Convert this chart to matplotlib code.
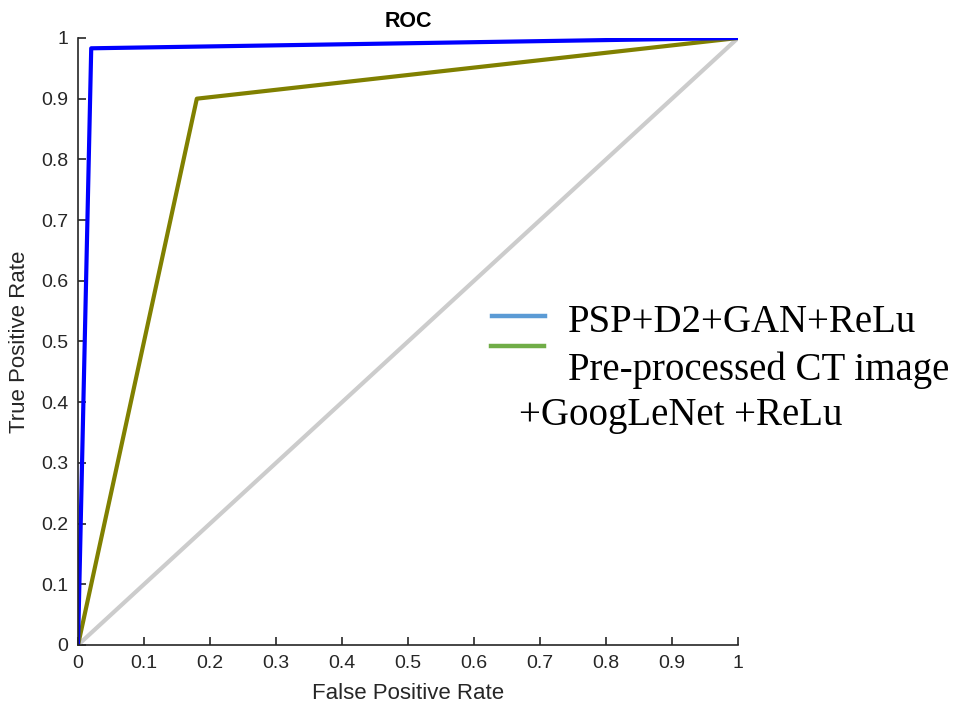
import matplotlib.pyplot as plt
from matplotlib.lines import Line2D

# ROC curves
fpr_psp = [0, 0.02, 1]
tpr_psp = [0, 0.983, 1]
fpr_goog = [0, 0.18, 1]
tpr_goog = [0, 0.90, 1]
chance = [0, 1]

ticks = [0, 0.1, 0.2, 0.3, 0.4, 0.5, 0.6, 0.7, 0.8, 0.9, 1]
tick_labels = ['0', '0.1', '0.2', '0.3', '0.4', '0.5', '0.6', '0.7', '0.8', '0.9', '1']

legend_labels = ['PSP+D2+GAN+ReLu', 'Pre-processed CT image', '+GoogLeNet +ReLu']

plt.rcParams['font.family'] = ['Liberation Sans', 'DejaVu Sans']

fig = plt.figure(figsize=(9.55, 7.02), dpi=100)
ax = fig.add_axes([0.0817, 0.0812, 0.6911, 0.8647])

ax.plot(chance, chance, color='#cccccc', linewidth=3, solid_capstyle='butt')
ax.plot(fpr_goog, tpr_goog, color='#808000', linewidth=3)
ax.plot(fpr_psp, tpr_psp, color='#0000ff', linewidth=3)

ax.set_xlim(0, 1)
ax.set_ylim(0, 1)
ax.set_xticks(ticks)
ax.set_xticklabels(tick_labels)
ax.set_yticks(ticks)
ax.set_yticklabels(tick_labels)
ax.tick_params(direction='in', length=6, width=1.2, colors='#262626', labelsize=14, pad=7)
for s in ['top', 'right']:
    ax.spines[s].set_visible(False)
for s in ['left', 'bottom']:
    ax.spines[s].set_color('#262626')
    ax.spines[s].set_linewidth(1.2)

ax.set_xlabel('False Positive Rate', fontsize=16, color='#262626', labelpad=8)
ax.set_ylabel('True Positive Rate', fontsize=16, color='#262626', labelpad=8)
ax.set_title('ROC', fontsize=15.5, fontweight='bold', pad=8)

# legend pasted over the figure
fig.add_artist(Line2D([492 / 955, 545 / 955], [1 - 316 / 702, 1 - 316 / 702],
                      color='#5b9bd5', linewidth=3.2, transform=fig.transFigure))
fig.add_artist(Line2D([491 / 955, 544 / 955], [1 - 346 / 702, 1 - 346 / 702],
                      color='#70ad47', linewidth=3.2, transform=fig.transFigure))
serif = ['Liberation Serif', 'DejaVu Serif']
fig.text(568 / 955, 1 - 322 / 702, legend_labels[0], fontsize=28, family=serif, va='center')
fig.text(568 / 955, 1 - 370 / 702, legend_labels[1], fontsize=28, family=serif, va='center')
fig.text(519 / 955, 1 - 415 / 702, legend_labels[2], fontsize=28, family=serif, va='center')

fig.savefig('out.png', dpi=100)
